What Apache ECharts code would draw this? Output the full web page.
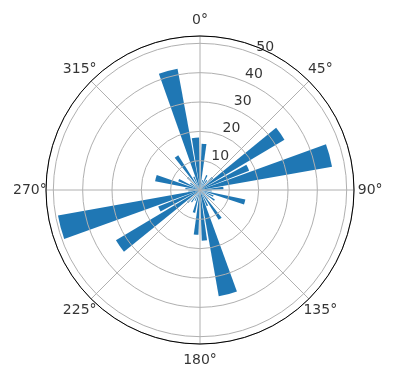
<!DOCTYPE html>
<html>
<head>
<meta charset="utf-8">
<script src="https://cdn.jsdelivr.net/npm/echarts@6/dist/echarts.min.js"></script>
<style>html,body{margin:0;padding:0;background:#fff}#c{width:396px;height:380px}</style>
</head>
<body>
<div id="c"></div>
<script>
// bin centres (degrees, clockwise from north)
const angles = [5,15,25,35,45,55,65,75,85,95,105,115,125,135,145,155,165,175,185,195,205,215,225,235,245,255,265,275,285,295,305,315,325,335,345,355];
// bar lengths
const radii  = [15.8,3.5,5.5,4,6,33.5,18,45.7,8,4,15.8,5,6,4,12,6,36.8,17.3,15.3,8,4,5,6,33.4,15.3,49.2,4,5,15.6,8,4,6,14,5,42,17.9];
// bar widths (degrees)
const widths = [6,5,5,5,6,8.5,7,10,6,5,6.5,5,5,5,6,5,10,6,6,6,5,5,5,8.2,7,9.6,5,5,8,6,5,5,6,5,9,8];
const angleTicks = [0,45,90,135,180,225,270,315];
const angleTickLabels = ['0°','45°','90°','135°','180°','225°','270°','315°'];
const radialTicks = [10,20,30,40,50];
const radialTickLabels = ['10','20','30','40','50'];
const rMax = 52.5;
const rLabelAngle = 22.5;
const thetaLabelRadius = 58.0;

const chart = echarts.init(document.getElementById('c'), null, {renderer:'canvas'});
const FONT = 'DejaVu Sans';
const GRID = '#b0b0b0';

const barData = angles.map((a,i)=>[radii[i], a, widths[i]]);
const txt = {show:true, position:'inside', color:'#000', fontFamily:FONT, fontSize:14,
             textBorderWidth:0, textBorderColor:'transparent', textShadowBlur:0};

chart.setOption({
  animation:false,
  backgroundColor:'#fff',
  polar:{center:[200,190], radius:154},
  angleAxis:{
    type:'value', min:0, max:360, interval:45, startAngle:90, clockwise:true, z:5,
    axisLine:{show:true, lineStyle:{color:'#000', width:1}},
    axisTick:{show:false},
    splitLine:{show:true, lineStyle:{color:GRID, width:1}},
    axisLabel:{show:false}
  },
  radiusAxis:{
    type:'value', min:0, max:rMax, interval:10, z:5,
    axisLine:{show:false}, axisTick:{show:false}, axisLabel:{show:false},
    splitLine:{show:true, lineStyle:{color:GRID, width:1}}
  },
  series:[
    {
      type:'custom', coordinateSystem:'polar', z:1,
      encode:{radius:0, angle:1},
      data:barData,
      renderItem:function(params, api){
        const r = api.value(0), a = api.value(1), w = api.value(2);
        const cs = params.coordSys;
        const p = api.coord([r, a]);
        const p1 = api.coord([r, a - w/2]);
        const p2 = api.coord([r, a + w/2]);
        const rad = Math.hypot(p[0]-cs.cx, p[1]-cs.cy);
        const s = Math.atan2(p1[1]-cs.cy, p1[0]-cs.cx);
        const e = Math.atan2(p2[1]-cs.cy, p2[0]-cs.cx);
        return {type:'sector', shape:{cx:cs.cx, cy:cs.cy, r0:0, r:rad, startAngle:s, endAngle:e, clockwise:true},
                style:{fill:'#1f77b4'}};
      }
    },
    {
      type:'scatter', coordinateSystem:'polar', z:10, symbolSize:0, silent:true,
      itemStyle:{color:'#000'},
      data:radialTicks.map(v=>[v, rLabelAngle]),
      label:Object.assign({offset:[9,-7], formatter:p=> radialTickLabels[p.dataIndex]}, txt)
    },
    {
      type:'scatter', coordinateSystem:'polar', z:10, symbolSize:0, silent:true, clip:false,
      itemStyle:{color:'#000'},
      data:angleTicks.map(a=>[thetaLabelRadius, a]),
      label:Object.assign({formatter:p=> angleTickLabels[p.dataIndex]}, txt)
    }
  ]
});
</script>
</body>
</html>
